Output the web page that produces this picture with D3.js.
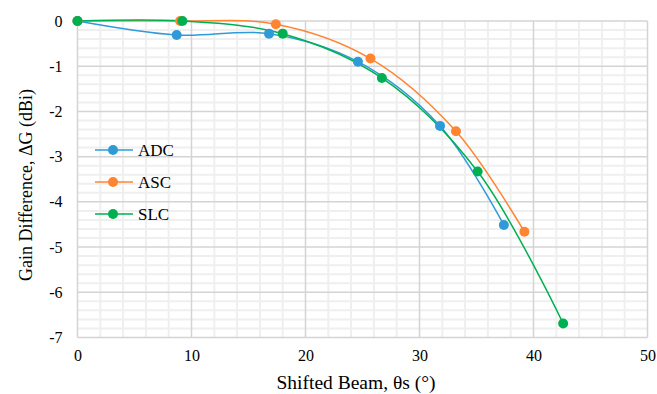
<!DOCTYPE html>
<html><head><meta charset="utf-8">
<script src="https://cdn.jsdelivr.net/npm/d3@7"></script>
<style>body{margin:0;background:#fff}svg{display:block}text{font-family:"Liberation Serif","Times New Roman",serif;fill:#000}</style>
</head><body><svg id="c" width="657" height="394"></svg>
<script>
const seriesNames = ["ADC", "ASC", "SLC"];
const adcX = [0, 8.7, 16.8, 24.6, 31.8, 37.4];
const adcY = [0, -0.31, -0.28, -0.9, -2.32, -4.51];
const ascX = [0, 9.0, 17.4, 25.7, 33.2, 39.2];
const ascY = [0, 0, -0.07, -0.83, -2.44, -4.66];
const slcX = [0, 9.2, 18.0, 26.7, 35.1, 42.6];
const slcY = [0, 0, -0.28, -1.26, -3.33, -6.69];
const xTicks = [0, 10, 20, 30, 40, 50];
const yTicks = [0, -1, -2, -3, -4, -5, -6, -7];
const colors = ["#2E9BD8", "#FF8533", "#00B050"];

const svg = d3.select("#c");
const x = d3.scaleLinear().domain([0, 50]).range([77.5, 647.5]);
const y = d3.scaleLinear().domain([0, -7]).range([21, 337.5]);

// minor grid
const g = svg.append("g");
d3.range(0, 50.01, 2).forEach(v => {
  if (v % 10 !== 0) g.append("line").attr("x1", x(v)).attr("x2", x(v)).attr("y1", y(0)).attr("y2", y(-7)).attr("stroke", "#efefef").attr("stroke-width", 2);
});
d3.range(0, 70.01, 2).forEach(k => {
  const v = -k / 10;
  if (k % 10 !== 0) g.append("line").attr("x1", x(0)).attr("x2", x(50)).attr("y1", y(v)).attr("y2", y(v)).attr("stroke", "#efefef").attr("stroke-width", 2);
});
// major grid
xTicks.forEach(v => g.append("line").attr("x1", x(v)).attr("x2", x(v)).attr("y1", y(0)).attr("y2", y(-7)).attr("stroke", "#d4d4d4").attr("stroke-width", 1.5));
yTicks.forEach(v => g.append("line").attr("x1", x(0)).attr("x2", x(50)).attr("y1", y(v)).attr("y2", y(v)).attr("stroke", "#d4d4d4").attr("stroke-width", 1.5));

// axes labels
const xAxis = d3.axisBottom(x).tickValues(xTicks).tickSize(0).tickPadding(12).tickFormat(d => String(d));
svg.append("g").attr("transform", `translate(0,${y(-7)})`).call(xAxis)
  .call(s => s.select(".domain").remove())
  .selectAll("text").attr("font-size", 16).attr("font-family", "Liberation Serif").attr("fill", "#000");
const yAxis = d3.axisLeft(y).tickValues(yTicks).tickSize(0).tickPadding(15).tickFormat(d => String(d));
svg.append("g").attr("transform", `translate(${x(0)},0)`).call(yAxis)
  .call(s => s.select(".domain").remove())
  .selectAll("text").attr("font-size", 16).attr("font-family", "Liberation Serif").attr("fill", "#000");

svg.append("text").attr("x", 356).attr("y", 389).attr("text-anchor", "middle").attr("font-size", 19.5).text("Shifted Beam, θs (°)");
svg.append("text").attr("transform", "translate(32,185) rotate(-90)").attr("text-anchor", "middle").attr("font-size", 18).text("Gain Difference, ΔG (dBi)");

const data = [[adcX, adcY], [ascX, ascY], [slcX, slcY]];
const line = d3.line().x(d => x(d[0])).y(d => y(d[1])).curve(d3.curveCatmullRom.alpha(0.5));
data.forEach(([xs, ys], i) => {
  const pts = xs.map((v, j) => [v, ys[j]]);
  svg.append("path").attr("d", line(pts)).attr("fill", "none").attr("stroke", colors[i]).attr("stroke-width", 1.5);
});
data.forEach(([xs, ys], i) => {
  svg.append("g").selectAll("circle").data(xs.map((v, j) => [v, ys[j]])).join("circle")
    .attr("cx", d => x(d[0])).attr("cy", d => y(d[1])).attr("r", 5).attr("fill", colors[i]);
});

// legend
seriesNames.forEach((n, i) => {
  const ly = 150 + i * 32;
  svg.append("line").attr("x1", 95).attr("x2", 133).attr("y1", ly).attr("y2", ly).attr("stroke", colors[i]).attr("stroke-width", 1.5);
  svg.append("circle").attr("cx", 113).attr("cy", ly).attr("r", 5).attr("fill", colors[i]);
  svg.append("text").attr("x", 138).attr("y", ly + 6).attr("font-size", 17).text(n);
});
</script></body></html>
